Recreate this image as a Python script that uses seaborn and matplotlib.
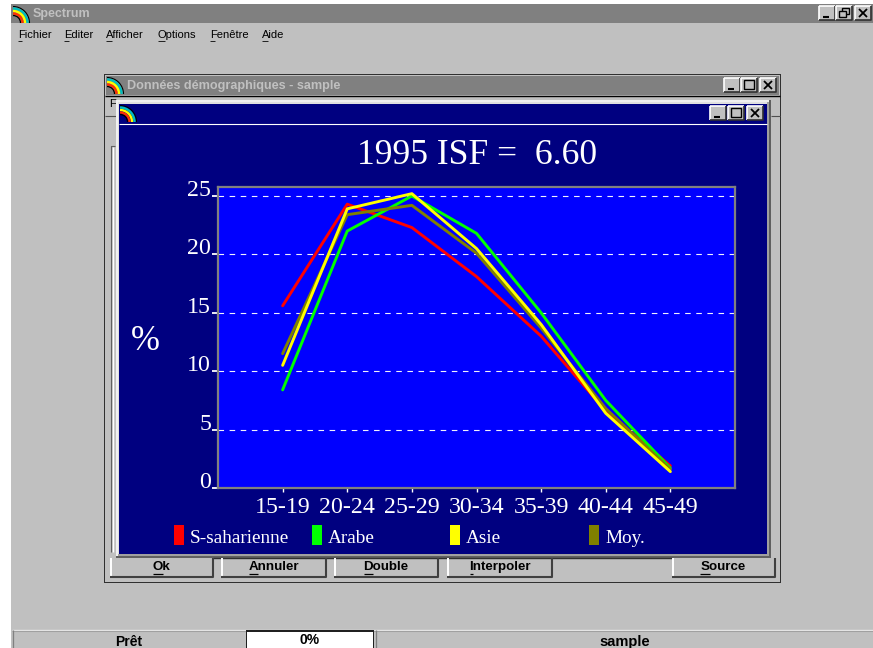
import matplotlib
matplotlib.use("Agg")
import matplotlib.pyplot as plt
import pandas as pd
import seaborn as sns
from matplotlib.patches import Arc, Rectangle

age_groups = ["15-19", "20-24", "25-29", "30-34", "35-39", "40-44", "45-49"]
s_saharienne = [15.6, 24.3, 22.3, 18.1, 13.0, 6.6, 1.9]
arabe = [8.4, 22.0, 25.0, 21.8, 15.0, 7.5, 1.7]
asie = [10.5, 23.9, 25.2, 20.5, 14.0, 6.4, 1.4]
moyenne = [11.5, 23.4, 24.2, 20.1, 13.7, 6.8, 1.6]
y_ticks = [0, 5, 10, 15, 20, 25]

GREY = "#C0C0C0"
DARK = "#808080"
NAVY = "#000080"
W, H = 873, 648
SERIF = "Liberation Serif"
SANS = "Liberation Sans"

df = pd.DataFrame({
    "age": age_groups * 4,
    "pct": s_saharienne + arabe + moyenne + asie,
    "region": ["S-saharienne"] * 7 + ["Arabe"] * 7 + ["Moy."] * 7 + ["Asie"] * 7,
})
df["pos"] = df["age"].map({a: i for i, a in enumerate(age_groups)})
palette = {"S-saharienne": "#FF0000", "Arabe": "#00FF00", "Asie": "#FFFF00", "Moy.": "#808000"}

sns.set_theme(style="white")
fig = plt.figure(figsize=(W / 100, H / 100), dpi=100, facecolor="white")

# everything around the plot is drawn in pixel coordinates
ui = fig.add_axes([0, 0, 1, 1])
ui.set_xlim(0, W)
ui.set_ylim(H, 0)
ui.axis("off")


def box(x0, y0, x1, y1, color, z=1):
    ui.add_patch(Rectangle((x0, y0), x1 - x0, y1 - y0, facecolor=color, edgecolor="none", zorder=z))


def line(xs, ys, color="black", lw=0.9, z=6):
    ui.plot(xs, ys, color=color, lw=lw, zorder=z, solid_capstyle="butt")


def raised(x0, y0, x1, y1, z=3):
    box(x0, y0, x1, y1, GREY, z)
    line([x0, x1], [y0, y0], "white", 1.2, z + 0.1)
    line([x0, x0], [y0, y1], "white", 1.2, z + 0.1)
    line([x0, x1, x1], [y1, y1, y0], "#303030", 1.2, z + 0.1)


def label(x, y, s, size=8.2, color="black", weight="normal", ha="center", family=SANS, z=6):
    ui.text(x, y, s, fontsize=size, color=color, fontweight=weight, ha=ha, va="center", family=family, zorder=z)


def rainbow(x, y, z=6):
    radii = [16.5, 14.5, 12, 9.5, 7.5]
    colors = ["#000000", "#00C0C0", "#FFFF00", "#FF3000", "#000000"]
    widths = [0.8, 1.7, 1.7, 1.7, 0.9]
    for r, c, w in zip(radii, colors, widths):
        ui.add_patch(Arc((x + 1, y + 17), 2 * r, 2 * r, theta1=270, theta2=360, color=c, lw=w, zorder=z))


def win_button(x, y, kind, z=6):
    raised(x, y, x + 16, y + 14, z)
    if kind == "min":
        line([x + 4, x + 10], [y + 11, y + 11], "black", 1.5, z + 1)
    elif kind == "max":
        ui.add_patch(Rectangle((x + 3, y + 2), 10, 9, fill=False, edgecolor="black", lw=1, zorder=z + 1))
    elif kind == "restore":
        ui.add_patch(Rectangle((x + 6, y + 2), 7, 6, fill=False, edgecolor="black", lw=1, zorder=z + 1))
        ui.add_patch(Rectangle((x + 3, y + 5), 7, 6, facecolor=GREY, edgecolor="black", lw=1, zorder=z + 2))
    else:
        line([x + 4, x + 12], [y + 3, y + 11], "black", 1.3, z + 1)
        line([x + 4, x + 12], [y + 11, y + 3], "black", 1.3, z + 1)


# main window
box(11, 4, W, H, GREY, 0.5)
box(11, 4, W, 23, DARK, 1)
rainbow(12, 6)
label(33, 14, "Spectrum", size=9, color="#C0C0C0", weight="bold", ha="left")
menu_x = [18, 64, 106, 158, 210, 262]
menu_u = [4, 5, 6, 7, 5, 6]
for x, u, name in zip(menu_x, menu_u, ["Fichier", "Editer", "Afficher", "Options", "Fenêtre", "Aide"]):
    label(x, 34.5, name, ha="left", size=8)
    line([x, x + u], [40.5, 40.5], "#202020", 0.7)
for x, kind in zip([819, 836, 855], ["min", "restore", "close"]):
    win_button(x, 6, kind)

# data window
box(104, 74, 781, 583, "#303030", 1.2)
box(105, 75, 780, 582, GREY, 1.3)
box(106, 76, 779, 95, DARK, 1.4)
rainbow(106, 77)
label(127, 86, "Données démographiques - sample", size=9.1, color="#C0C0C0", weight="bold", ha="left")
for x, kind in zip([724, 741, 760], ["min", "max", "close"]):
    win_button(x, 78, kind)
line([105, 780], [96, 96], "black", 1, 1.5)
label(112, 104, "F", size=8, z=1.5)
line([105, 116], [115.5, 115.5], "#505050", 0.8, 1.5)
line([111, 111, 115], [552, 146, 146], "#606060", 0.8, 1.5)
line([113, 113], [552, 147], "white", 1, 1.5)
line([771, 780], [115.5, 115.5], "#505050", 0.8, 1.5)

# chart window
box(116, 100, 771, 558, "#606060", 2)
box(116, 100, 769, 556, "#F0F0F0", 2.1)
box(118, 102, 769, 556, "#A0A0A0", 2.15)
box(118, 102, 767, 554, "#E0E0E0", 2.16)
box(119, 104, 767, 554, NAVY, 2.2)
line([119, 767], [123.5, 123.5], "white", 0.8, 2.3)
rainbow(119, 105)
for x, kind in zip([710, 728, 747], ["min", "max", "close"]):
    win_button(x, 106, kind)

# buttons
button_left = [110, 221, 334, 447, 672]
button_right = [213, 326, 438, 552, 775]
button_under = [(153, 163), (249, 258), (364, 373), (470, 473), (700, 710)]
for x0, x1, u, name in zip(button_left, button_right, button_under, ["Ok", "Annuler", "Double", "Interpoler", "Source"]):
    box(x0, 558, x1, 577, GREY, 3)
    line([x0 + 1, x0 + 1], [558, 576], "white", 1.4, 3.1)
    line([x0, x1, x1], [576.5, 576.5, 558], "#404040", 1.5, 3.1)
    label((x0 + x1) / 2, 567, name, size=9.6, weight="bold")
    line(u, [574, 574], "black", 0.9)
line([213, 672], [557.5, 557.5], "#303030", 1, 3)

# status bar
line([12, W], [629.5, 629.5], "#E8E8E8", 1, 2)
line([12, W], [630.5, 630.5], "#A0A0A0", 0.8, 2)
line([12.5, 12.5], [630, H], "#808080", 0.9, 2)
line([375.5, 375.5], [630, H], "#808080", 0.9, 2)
box(246, 630, 374, H, "#202020", 2)
box(247, 632, 373, H, "white", 2.1)
label(129, 642, "Prêt", size=10, weight="bold")
label(310, 640, "0%", size=10, weight="bold")
label(625, 642, "sample", size=10.5, weight="bold")

# chart texts
label(477, 156, "1995 ISF =  6.60", size=25.6, color="white", family=SERIF)
label(145, 341, "%", size=25, color="white", family=SERIF)
legend_x = [174, 312, 450, 589]
for x, color, name in zip(legend_x, ["#FF0000", "#00FF00", "#FFFF00", "#808000"], ["S-saharienne", "Arabe", "Asie", "Moy."]):
    box(x, 525, x + 10, 545, color, 3)
    label(x + 16, 538.5, name, size=13.9, color="white", ha="left", family=SERIF)

# plot area
ax = fig.add_axes([218 / W, 1 - 488 / H, (735 - 218) / W, (488 - 187) / H], facecolor="#0000FF")
sns.lineplot(data=df, x="pos", y="pct", hue="region", palette=palette, linewidth=2.1, legend=False, ax=ax,
             hue_order=["S-saharienne", "Arabe", "Moy.", "Asie"], errorbar=None)
ax.set_xlim(-1, 7)
ax.set_ylim(0, 25.77)
ax.set_xlabel("")
ax.set_ylabel("")
ax.set_xticks(range(len(age_groups)))
ax.set_xticklabels(age_groups, family=SERIF, fontsize=17.2, color="white")
ax.set_yticks(y_ticks)
ax.set_yticklabels([str(v) for v in y_ticks], family=SERIF, fontsize=17.2, color="white")
for t in ax.get_yticklabels():
    t.set_verticalalignment("baseline")
ax.tick_params(axis="x", length=3, width=1, color="white", bottom=True, pad=3.5)
ax.tick_params(axis="y", length=4.3, width=1.3, color="white", left=True, pad=0.6)
ax.set_axisbelow(True)
ax.grid(axis="y", color="#F0F0FF", linewidth=0.8, linestyle=(0, (5, 5)))
ax.grid(axis="x", visible=False)
for spine in ax.spines.values():
    spine.set_color(DARK)
    spine.set_linewidth(1.6)
    spine.set_visible(True)

fig.savefig("out.png", dpi=100, facecolor="white")
